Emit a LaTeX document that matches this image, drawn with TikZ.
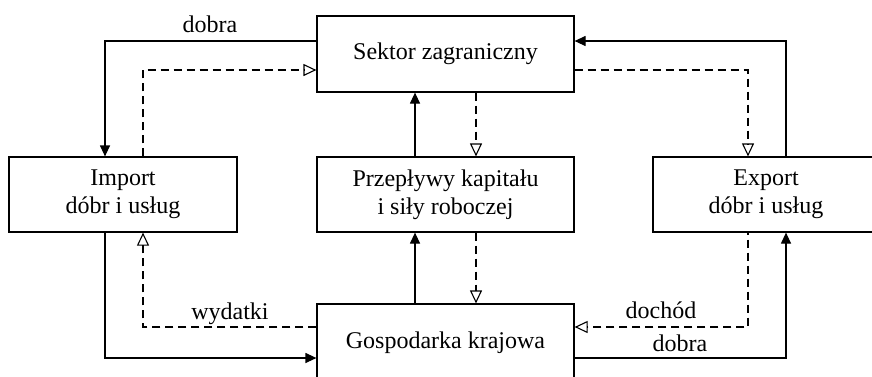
\documentclass[tikz,border=0pt]{standalone}
\usepackage{fontspec}
\setmainfont{Liberation Serif}
\usetikzlibrary{arrows.meta}
\begin{document}
\begin{tikzpicture}[x=1pt,y=-1pt,
  line width=1.2pt,
  every node/.style={font=\fontsize{24}{28}\selectfont},
  box/.style={draw, rectangle, inner sep=0pt, align=center},
  goods/.style={-{Triangle[length=11pt,width=10pt]}},
  money/.style={-{Triangle[open,length=13pt,width=12pt,line width=1.1pt]}, dash pattern=on 8pt off 5pt},
  lbl/.style={anchor=base, inner sep=0pt}
]
\useasboundingbox (0,0) rectangle (872,376);
\clip (0,0) rectangle (872,376);

% sectors
\node[box, minimum width=257pt, minimum height=76pt] (sek) at (445.5,54) {Sektor zagraniczny};
\node[box, minimum width=228pt, minimum height=75pt] (imp) at (123,194.5) {Import\\dóbr i usług};
\node[box, minimum width=257pt, minimum height=75pt] (prz) at (445.5,194.5) {Przepływy kapitału\\i siły roboczej};
\node[box, minimum width=226pt, minimum height=75pt] (exp) at (766,194.5) {Export\\dóbr i usług};
\node[box, minimum width=257pt, minimum height=78pt] (gos) at (445.5,343) {Gospodarka krajowa};

% flows between the foreign sector and imports/exports
\draw[goods] ([yshift=13pt]sek.west) -| ([xshift=-18pt]imp.north);
\draw[money] ([xshift=20pt]imp.north) |- ([yshift=-16pt]sek.west);
\draw[goods] ([xshift=20pt]exp.north) |- ([yshift=13pt]sek.east);
\draw[money] ([yshift=-16pt]sek.east) -| ([xshift=-18pt]exp.north);

% capital and labour flows
\draw[goods] ([xshift=-30.5pt]prz.north) -- ([xshift=-30.5pt]sek.south);
\draw[money] ([xshift=30.5pt]sek.south) -- ([xshift=30.5pt]prz.north);
\draw[goods] ([xshift=-30.5pt]gos.north) -- ([xshift=-30.5pt]prz.south);
\draw[money] ([xshift=30.5pt]prz.south) -- ([xshift=30.5pt]gos.north);

% flows between the domestic economy and imports/exports
\draw[money] ([yshift=16pt]gos.west) -| ([xshift=20pt]imp.south);
\draw[goods] ([xshift=-18pt]imp.south) |- ([yshift=-15pt]gos.west);
\draw[money, dash phase=6pt] ([xshift=-18pt]exp.south) |- ([yshift=16pt]gos.east);
\draw[goods] ([yshift=-15pt]gos.east) -| ([xshift=20pt]exp.south);

% labels
\node[lbl] (l1) at (210,32) {dobra};
\node[lbl] (l2) at (230,319) {wydatki};
\node[lbl] (l3) at (661,318) {dochód};
\node[lbl] (l4) at (680,351) {dobra};
\end{tikzpicture}
\end{document}
